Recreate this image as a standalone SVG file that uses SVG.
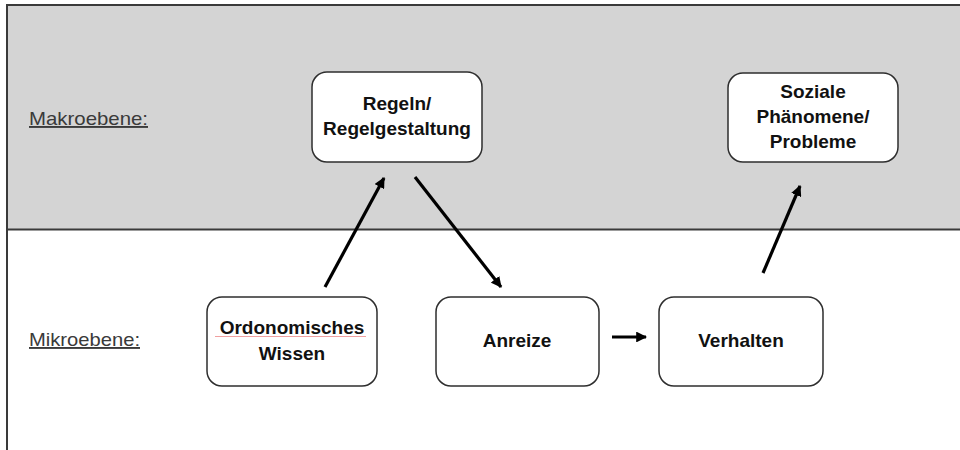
<svg xmlns="http://www.w3.org/2000/svg" width="960" height="450" viewBox="0 0 960 450">
<defs>
<style>
.frame{stroke:#3a3a3a;stroke-width:2;fill:none}
.box{fill:#fff;stroke:#2e2e2e;stroke-width:1.5}
.t{font-family:"Liberation Sans",Arial,sans-serif;font-weight:bold;font-size:19px;fill:#111;text-anchor:middle}
.lbl{font-family:"Liberation Sans",Arial,sans-serif;font-size:19px;fill:#3a3a3a;text-decoration:underline}
.conn{stroke:#000;stroke-width:3.2;fill:none;marker-end:url(#ah)}
</style>
<marker id="ah" viewBox="0 0 10 10" refX="9" refY="5" markerWidth="3.4" markerHeight="3.4" orient="auto" markerUnits="strokeWidth">
<path d="M0,0 L10,5 L0,10 z" fill="#000"/>
</marker>
</defs>
<rect x="0" y="0" width="960" height="450" fill="#fff"/>
<g id="background">
<rect x="7" y="5" width="960" height="224.5" fill="#d4d4d4"/>
<line class="frame" x1="6" y1="5" x2="960" y2="5"/>
<line class="frame" x1="7" y1="5" x2="7" y2="450"/>
<line class="frame" x1="7" y1="229.5" x2="960" y2="229.5"/>
<text class="lbl" x="29" y="125" textLength="119" lengthAdjust="spacingAndGlyphs">Makroebene:</text>
<text class="lbl" x="29" y="346" textLength="111" lengthAdjust="spacingAndGlyphs">Mikroebene:</text>
</g>
<g id="regeln">
<rect class="box" x="312" y="72" width="170" height="90" rx="15"/>
<text class="t" x="397" y="110">Regeln/</text>
<text class="t" x="397" y="135">Regelgestaltung</text>
</g>
<g id="soziale">
<rect class="box" x="728" y="73" width="170" height="89" rx="15"/>
<text class="t" x="813" y="98">Soziale</text>
<text class="t" x="813" y="123">Phänomene/</text>
<text class="t" x="813" y="148">Probleme</text>
</g>
<g id="ordonomisches">
<rect class="box" x="207" y="297" width="170" height="89" rx="15"/>
<text class="t" x="292" y="334">Ordonomisches</text>
<path d="M215,336.5 L366,336.5" stroke="#e88" stroke-width="0.8" fill="none"/>
<text class="t" x="292" y="360">Wissen</text>
</g>
<g id="anreize">
<rect class="box" x="436" y="297" width="163" height="89" rx="15"/>
<text class="t" x="517" y="347">Anreize</text>
</g>
<g id="verhalten">
<rect class="box" x="659" y="297" width="164" height="89" rx="15"/>
<text class="t" x="741" y="347">Verhalten</text>
</g>
<g id="connectors">
<line class="conn" x1="325" y1="287" x2="384" y2="178"/>
<line class="conn" x1="415" y1="177" x2="501" y2="287"/>
<line class="conn" x1="612" y1="337" x2="646" y2="337"/>
<line class="conn" x1="763" y1="273" x2="800" y2="186"/>
</g>
</svg>
